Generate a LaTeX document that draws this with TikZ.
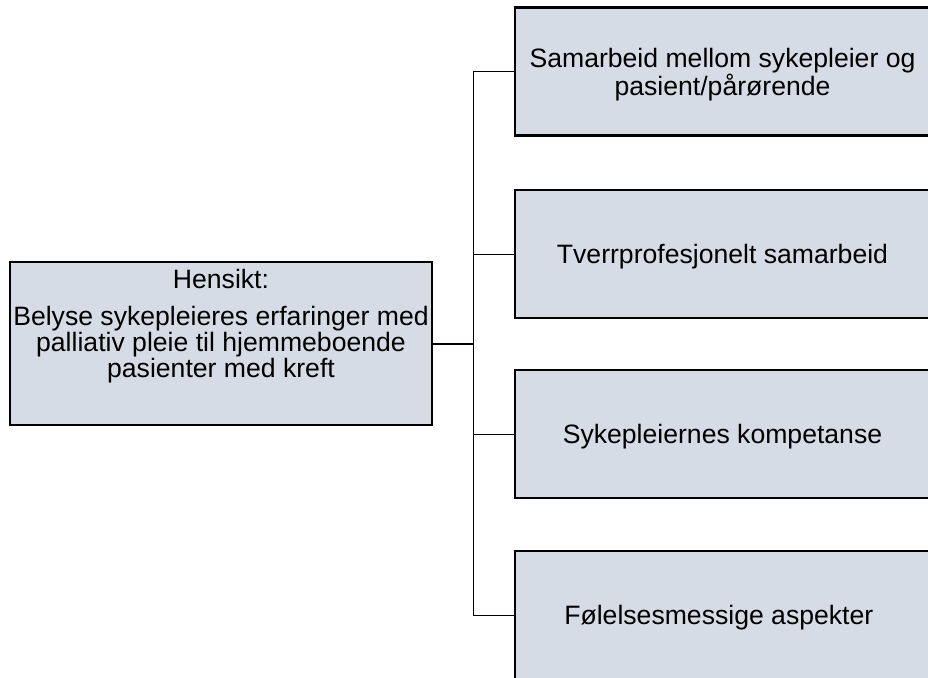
\documentclass[tikz,border=0pt]{standalone}
\usepackage{fontspec}
\setmainfont{Liberation Sans}
\usepackage{xcolor}
\definecolor{boxfill}{HTML}{D6DCE5}
\tikzset{
    box/.style={
        draw=black,
        line width=2.5pt,
        fill=boxfill,
        inner sep=0pt,
        outer sep=0pt
    },
    topic/.style={
        box,
        minimum width=415pt,
        minimum height=128pt
    },
    label text/.style={
        align=center,
        inner sep=0pt,
        font=\fontsize{26.6}{24.5}\selectfont
    },
    link/.style={line width=1pt}
}

\begin{document}
\begin{tikzpicture}[x=1pt,y=-1pt]
        \clip (0,0) rectangle (928,677);
        % aim of the study
        \node[box,minimum width=422pt,minimum height=163pt] (aim) at (221,343.5) {};
        \node[label text,anchor=north,font=\fontsize{26.6}{24}\selectfont]
            (aimtext) at ([yshift=-7pt]aim.north)
            {Hensikt:\\[13pt]Belyse sykepleieres erfaringer med\\palliativ pleie til hjemmeboende\\pasienter med kreft};
        % themes
        \foreach \name/\y/\txt in {
            t1/71.5/{Samarbeid mellom sykepleier og\\pasient/pårørende},
            t2/254/{Tverrprofesjonelt samarbeid},
            t3/434/{Sykepleiernes kompetanse},
            t4/615/{Følelsesmessige aspekter}
        }{
            \node[topic] (\name) at (722.5,\y) {};
            \node[label text] (\name text) at ([yshift=-3pt]\name.center) {\txt};
        }
        % connectors
        \coordinate (trunk) at (473,0);
        \draw[line width=2pt] (aim.east) -- (aim.east -| trunk);
        \draw[link] (t1.west) -- (t1.west -| trunk) -- (t4.west -| trunk) -- (t4.west);
        \foreach \name in {t2,t3}
            \draw[link] (\name.west) -- (\name.west -| trunk);
    \end{tikzpicture}
\end{document}
